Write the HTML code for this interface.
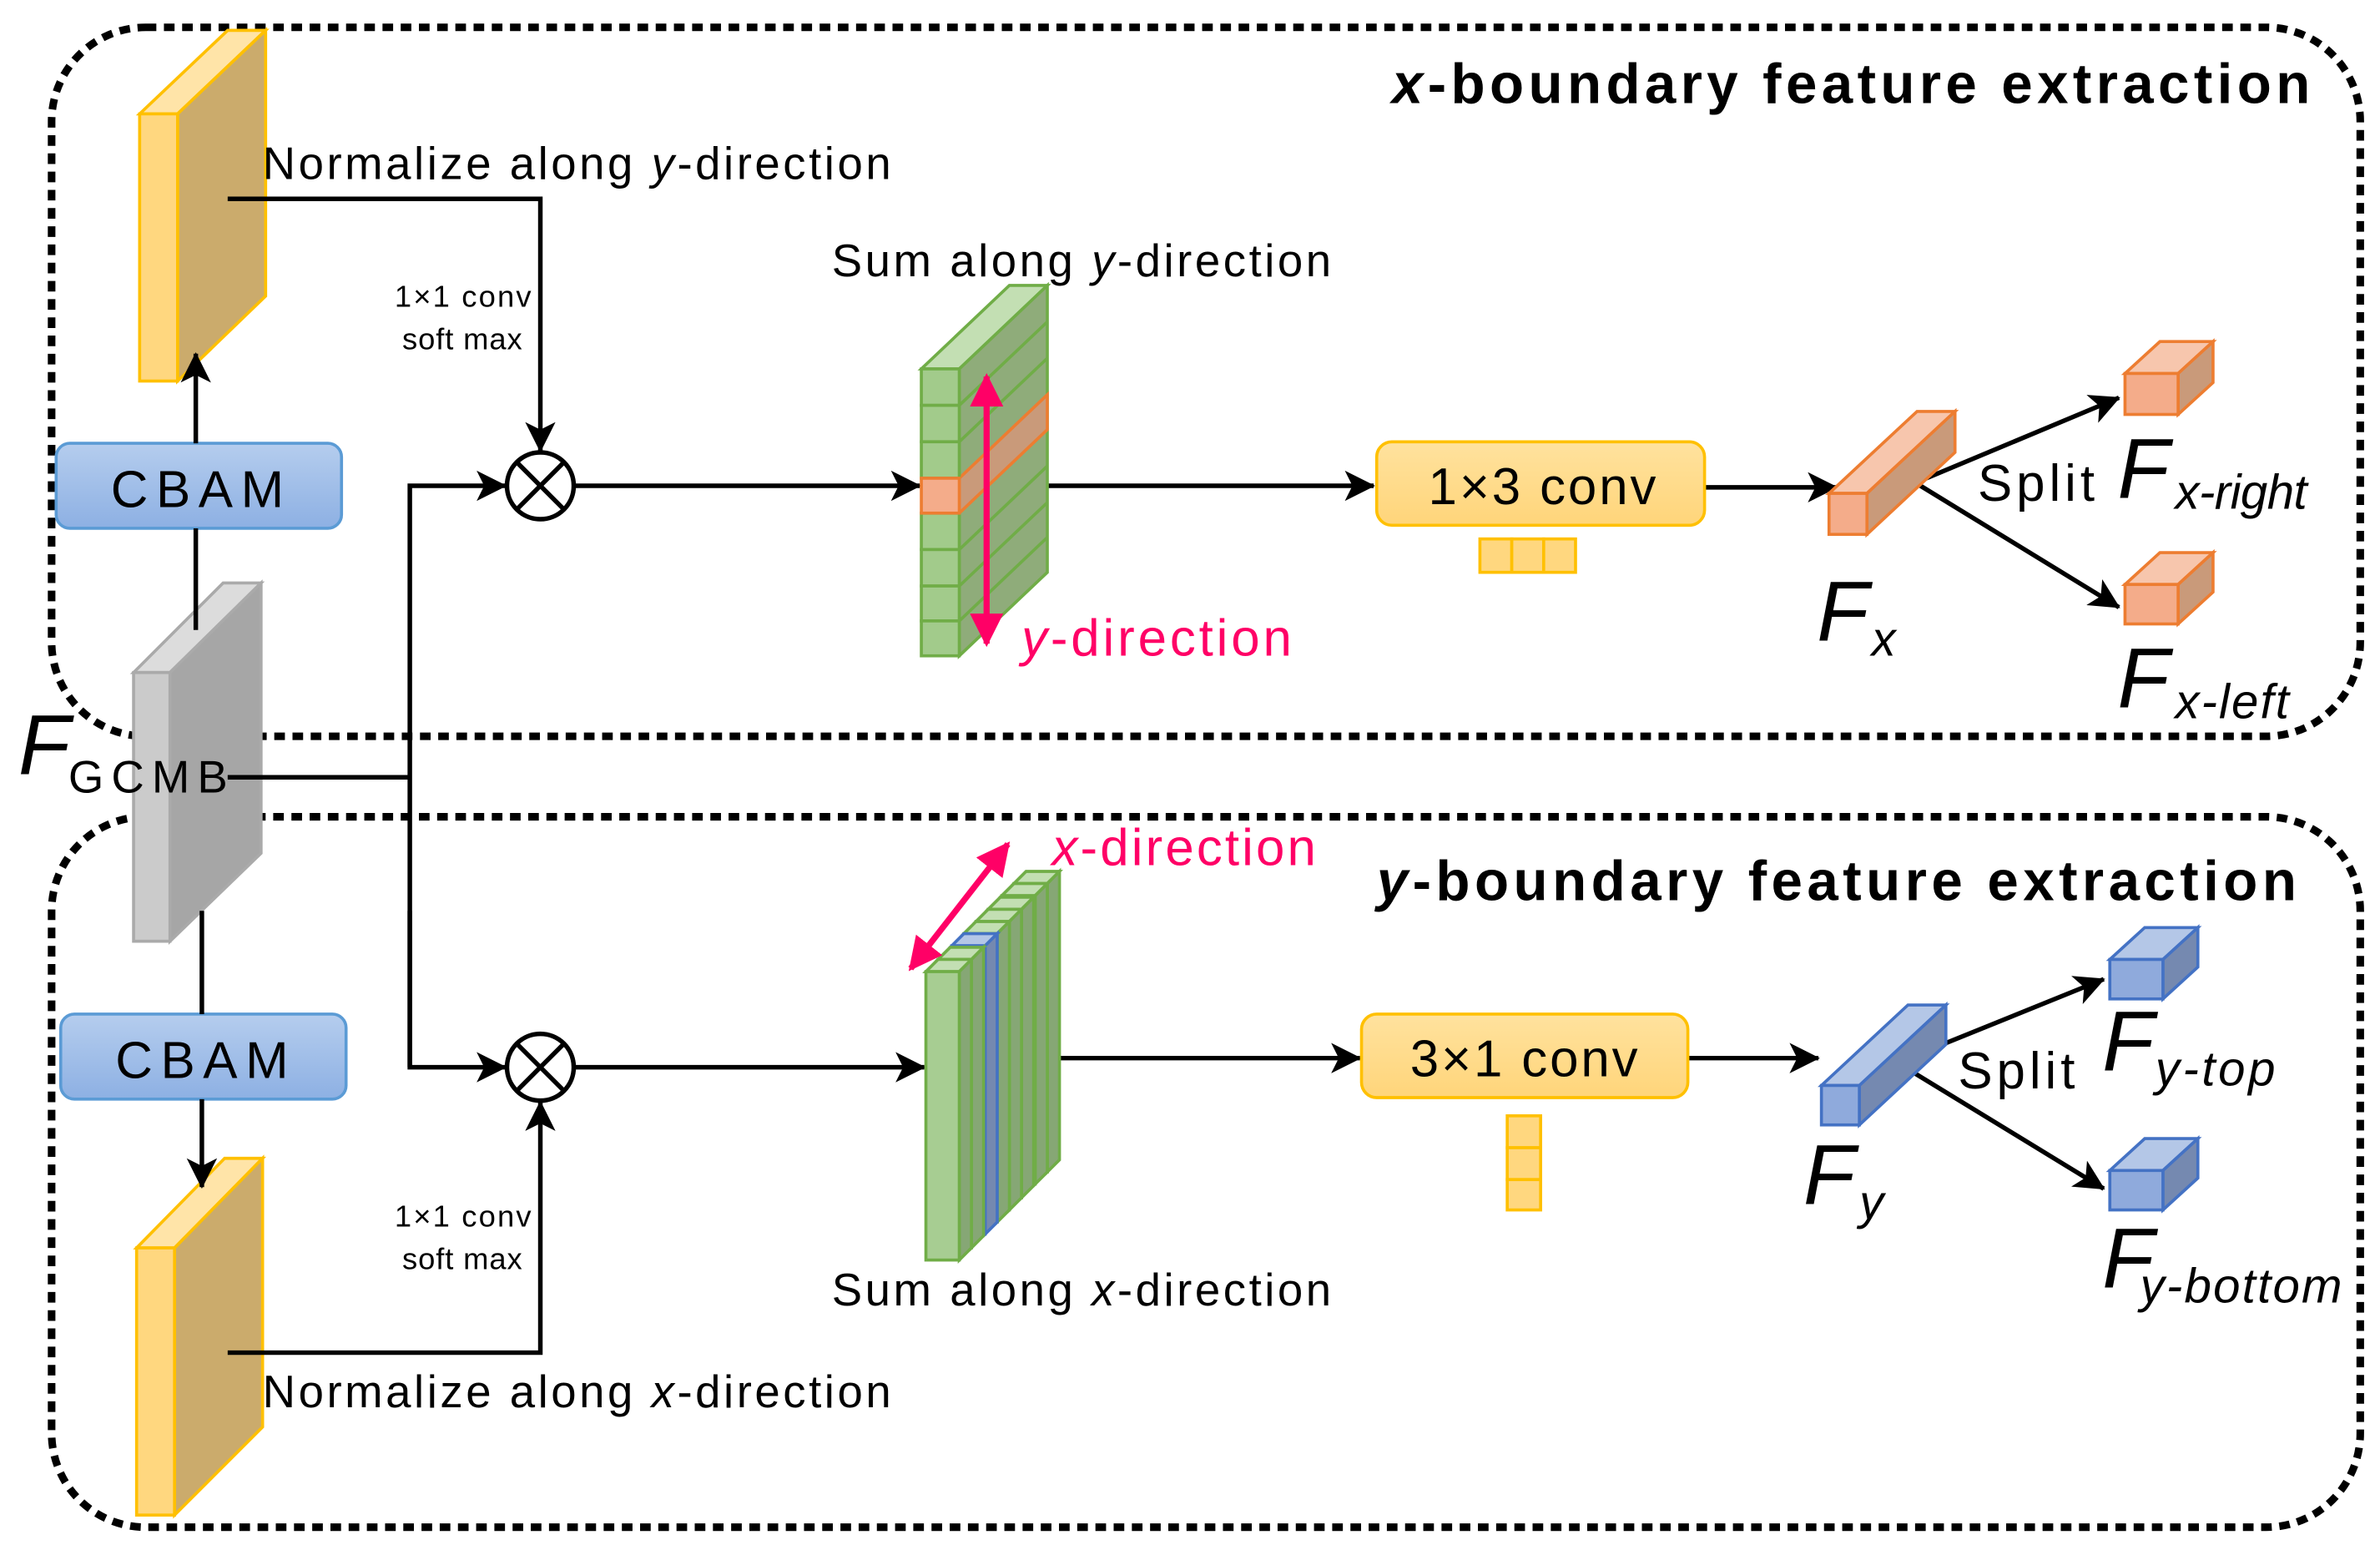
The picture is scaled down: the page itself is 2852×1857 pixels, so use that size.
<!DOCTYPE html>
<html><head><meta charset="utf-8"><style>
html,body{margin:0;padding:0;background:#fff;}
svg{display:block;}
text{font-family:"Liberation Sans",sans-serif;}
</style></head><body>
<svg width="2852" height="1857" viewBox="0 0 1568 1021" preserveAspectRatio="none" xmlns="http://www.w3.org/2000/svg">
<defs>
<marker id="ah" viewBox="0 0 20 20" refX="19" refY="10" markerWidth="20" markerHeight="20" markerUnits="userSpaceOnUse" orient="auto">
<path d="M0,0 L20,10 L0,20 L5,10 Z" fill="#000"/></marker>
<marker id="ph" viewBox="0 0 20 20" refX="18" refY="10" markerWidth="22" markerHeight="22" markerUnits="userSpaceOnUse" orient="auto-start-reverse">
<path d="M0,0 L20,10 L0,20 Z" fill="#ff0066"/></marker>
<linearGradient id="cb" x1="0" y1="0" x2="0" y2="1"><stop offset="0" stop-color="#b5cdee"/><stop offset="1" stop-color="#8db0e3"/></linearGradient>
<linearGradient id="cv" x1="0" y1="0" x2="0" y2="1"><stop offset="0" stop-color="#ffe29e"/><stop offset="1" stop-color="#ffd57a"/></linearGradient>
</defs>

<rect x="34" y="18" width="1521" height="467" rx="62" fill="none" stroke="#000" stroke-width="5" stroke-dasharray="7 5"/>
<rect x="34" y="538" width="1521" height="468" rx="62" fill="none" stroke="#000" stroke-width="5" stroke-dasharray="7 5"/>

<text x="917" y="68" font-size="37" font-weight="bold" textLength="605" lengthAdjust="spacing"><tspan font-style="italic">x</tspan>-boundary feature extraction</text>
<text x="907" y="593" font-size="37" font-weight="bold" textLength="606" lengthAdjust="spacing"><tspan font-style="italic">y</tspan>-boundary feature extraction</text>

<polygon points="92,75 150,20 175,20 117,75" fill="#ffe4a8" stroke="#ffc000" stroke-width="2"/>
<polygon points="117,75 175,20 175,195 117,251" fill="#cbab6c" stroke="#ffc000" stroke-width="2"/>
<rect x="92" y="75" width="25" height="176" fill="#ffd77f" stroke="#ffc000" stroke-width="2"/>
<polygon points="88,443 147,384 172,384 112,443" fill="#dcdcdc" stroke="#aaa" stroke-width="2"/>
<polygon points="112,443 172,384 172,562 112,620" fill="#a6a6a6" stroke="#aaa" stroke-width="2"/>
<rect x="88" y="443" width="24" height="177" fill="#cbcbcb" stroke="#aaa" stroke-width="2"/>
<polygon points="90,822 148,763 173,763 115,822" fill="#ffe4a8" stroke="#ffc000" stroke-width="2"/>
<polygon points="115,822 173,763 173,940 115,998" fill="#cbab6c" stroke="#ffc000" stroke-width="2"/>
<rect x="90" y="822" width="25" height="176" fill="#ffd77f" stroke="#ffc000" stroke-width="2"/>

<rect x="37" y="292" width="188" height="56" rx="9" fill="url(#cb)" stroke="#5b9bd5" stroke-width="2"/>
<text x="73" y="334" font-size="34" textLength="114" lengthAdjust="spacing">CBAM</text>
<rect x="40" y="668" width="188" height="56" rx="9" fill="url(#cb)" stroke="#5b9bd5" stroke-width="2"/>
<text x="76" y="710" font-size="34" textLength="114" lengthAdjust="spacing">CBAM</text>

<g stroke="#000" stroke-width="3" fill="none">
<line x1="129" y1="415" x2="129" y2="348"/>
<line x1="129" y1="292" x2="129" y2="233" marker-end="url(#ah)"/>
<line x1="133" y1="600" x2="133" y2="668"/>
<line x1="133" y1="724" x2="133" y2="782" marker-end="url(#ah)"/>
<polyline points="150,512 270,512"/>
<polyline points="270,703 270,320 333,320" marker-end="url(#ah)"/>
<polyline points="270,600 270,703 333,703" marker-end="url(#ah)"/>
<polyline points="150,131 356,131 356,297" marker-end="url(#ah)"/>
<polyline points="150,891 356,891 356,726" marker-end="url(#ah)"/>
<circle cx="356" cy="320" r="22" fill="#fff"/>
<line x1="340" y1="304" x2="372" y2="336"/><line x1="372" y1="304" x2="340" y2="336"/>
<circle cx="356" cy="703" r="22" fill="#fff"/>
<line x1="340" y1="687" x2="372" y2="719"/><line x1="372" y1="687" x2="340" y2="719"/>
<line x1="378" y1="320" x2="606" y2="320" marker-end="url(#ah)"/>
<line x1="378" y1="703" x2="609" y2="703" marker-end="url(#ah)"/>
<line x1="680" y1="320" x2="905" y2="320" marker-end="url(#ah)"/>
<line x1="668" y1="697" x2="896" y2="697" marker-end="url(#ah)"/>
<line x1="1123" y1="321" x2="1210" y2="321" marker-end="url(#ah)"/>
<line x1="1112" y1="697" x2="1198" y2="697" marker-end="url(#ah)"/>
<line x1="1262" y1="318" x2="1396" y2="262" marker-end="url(#ah)"/>
<line x1="1262" y1="318" x2="1396" y2="400" marker-end="url(#ah)"/>
<line x1="1250" y1="700" x2="1386" y2="645" marker-end="url(#ah)"/>
<line x1="1250" y1="700" x2="1386" y2="783" marker-end="url(#ah)"/>
</g>

<text x="173" y="118" font-size="30" textLength="414" lengthAdjust="spacing">Normalize along <tspan font-style="italic">y</tspan>-direction</text>
<text x="173" y="927" font-size="30" textLength="414" lengthAdjust="spacing">Normalize along <tspan font-style="italic">x</tspan>-direction</text>
<text x="260" y="202" font-size="20" textLength="90" lengthAdjust="spacing">1×1 conv</text>
<text x="265" y="230" font-size="20" textLength="79" lengthAdjust="spacing">soft max</text>
<text x="260" y="808" font-size="20" textLength="90" lengthAdjust="spacing">1×1 conv</text>
<text x="265" y="836" font-size="20" textLength="79" lengthAdjust="spacing">soft max</text>

<text x="12" y="510" font-size="56" font-style="italic">F</text>
<text x="45" y="522" font-size="30" textLength="105" lengthAdjust="spacing">GCMB</text>

<polygon points="607,243 665,188 690,188 632,243" fill="#c3dfb3" stroke="#70ad47" stroke-width="2"/>
<polygon points="632,243 690,188 690,377 632,432" fill="#8fac7a" stroke="#70ad47" stroke-width="2"/>
<polygon points="632,315 690,260 690,283 632,338" fill="#c99a7a" stroke="#ed7d31" stroke-width="2"/>
<g stroke="#70ad47" stroke-width="2">
<line x1="632" y1="267" x2="690" y2="212"/><line x1="632" y1="291" x2="690" y2="236"/>
<line x1="632" y1="362" x2="690" y2="307"/><line x1="632" y1="386" x2="690" y2="331"/><line x1="632" y1="409" x2="690" y2="354"/>
</g>
<g stroke="#70ad47" stroke-width="2" fill="#a2cb8b">
<rect x="607" y="243" width="25" height="24"/><rect x="607" y="267" width="25" height="24"/><rect x="607" y="291" width="25" height="24"/>
<rect x="607" y="338" width="25" height="24"/><rect x="607" y="362" width="25" height="24"/><rect x="607" y="386" width="25" height="23"/><rect x="607" y="409" width="25" height="23"/>
</g>
<rect x="607" y="315" width="25" height="23" fill="#f4ac8a" stroke="#ed7d31" stroke-width="2"/>
<line x1="650" y1="248" x2="650" y2="424" stroke="#ff0066" stroke-width="4" marker-start="url(#ph)" marker-end="url(#ph)"/>
<text x="673" y="432" font-size="34" fill="#ff0066" textLength="178" lengthAdjust="spacing"><tspan font-style="italic">y</tspan>-direction</text>
<text x="548" y="182" font-size="30" textLength="329" lengthAdjust="spacing">Sum along <tspan font-style="italic">y</tspan>-direction</text>

<g stroke="#70ad47" stroke-width="2">
<g transform="translate(58,-58)"><polygon points="610,640 618,632 640,632 632,640" fill="#c3dfb3"/><polygon points="632,640 640,632 640,822 632,830" fill="#86a775"/><rect x="610" y="640" width="22" height="190" fill="#8fb07c"/></g>
<g transform="translate(50,-50)"><polygon points="610,640 618,632 640,632 632,640" fill="#c3dfb3"/><polygon points="632,640 640,632 640,822 632,830" fill="#86a775"/><rect x="610" y="640" width="22" height="190" fill="#8fb07c"/></g>
<g transform="translate(41,-41)"><polygon points="610,640 618,632 640,632 632,640" fill="#c3dfb3"/><polygon points="632,640 640,632 640,822 632,830" fill="#86a775"/><rect x="610" y="640" width="22" height="190" fill="#8fb07c"/></g>
<g transform="translate(33,-33)"><polygon points="610,640 618,632 640,632 632,640" fill="#c3dfb3"/><polygon points="632,640 640,632 640,822 632,830" fill="#86a775"/><rect x="610" y="640" width="22" height="190" fill="#8fb07c"/></g>
<g transform="translate(25,-25)"><polygon points="610,640 618,632 640,632 632,640" fill="#c3dfb3"/><polygon points="632,640 640,632 640,822 632,830" fill="#86a775"/><rect x="610" y="640" width="22" height="190" fill="#8fb07c"/></g>
<g transform="translate(17,-17)" stroke="#4472c4"><polygon points="610,640 618,632 640,632 632,640" fill="#b4c7e7"/><polygon points="632,640 640,632 640,822 632,830" fill="#7589b0"/><rect x="610" y="640" width="22" height="190" fill="#7589b0"/></g>
<g transform="translate(8,-8)"><polygon points="610,640 618,632 640,632 632,640" fill="#c3dfb3"/><polygon points="632,640 640,632 640,822 632,830" fill="#86a775"/><rect x="610" y="640" width="22" height="190" fill="#8fb07c"/></g>
<polygon points="610,640 618,632 640,632 632,640" fill="#c3dfb3"/>
<polygon points="632,640 640,632 640,822 632,830" fill="#86a775"/>
<rect x="610" y="640" width="22" height="190" fill="#a7cd92"/>
</g>
<line x1="600" y1="638" x2="664" y2="556" stroke="#ff0066" stroke-width="4" marker-start="url(#ph)" marker-end="url(#ph)"/>
<text x="693" y="570" font-size="34" fill="#ff0066" textLength="174" lengthAdjust="spacing"><tspan font-style="italic">x</tspan>-direction</text>
<text x="548" y="860" font-size="30" textLength="329" lengthAdjust="spacing">Sum along <tspan font-style="italic">x</tspan>-direction</text>

<rect x="907" y="291" width="216" height="55" rx="10" fill="url(#cv)" stroke="#ffc000" stroke-width="2"/>
<text x="941" y="332" font-size="34" textLength="150" lengthAdjust="spacing">1×3 conv</text>
<g fill="#ffd77f" stroke="#ffc000" stroke-width="2">
<rect x="975" y="355" width="21" height="22"/><rect x="996" y="355" width="21" height="22"/><rect x="1017" y="355" width="21" height="22"/>
</g>
<rect x="897" y="668" width="215" height="55" rx="10" fill="url(#cv)" stroke="#ffc000" stroke-width="2"/>
<text x="929" y="709" font-size="34" textLength="150" lengthAdjust="spacing">3×1 conv</text>
<g fill="#ffd77f" stroke="#ffc000" stroke-width="2">
<rect x="993" y="735" width="22" height="21"/><rect x="993" y="756" width="22" height="21"/><rect x="993" y="777" width="22" height="20"/>
</g>

<g stroke="#ed7d31" stroke-width="2">
<polygon points="1205,325 1263,271 1288,271 1230,325" fill="#f7c6ad"/>
<polygon points="1230,325 1288,271 1288,298 1230,352" fill="#c99a7a"/>
<rect x="1205" y="325" width="25" height="27" fill="#f4ac8a"/>
<polygon points="1400,246 1423,225 1458,225 1435,246" fill="#f7c6ad"/>
<polygon points="1435,246 1458,225 1458,252 1435,273" fill="#c99a7a"/>
<rect x="1400" y="246" width="35" height="27" fill="#f4ac8a"/>
<polygon points="1400,385 1423,364 1458,364 1435,385" fill="#f7c6ad"/>
<polygon points="1435,385 1458,364 1458,390 1435,411" fill="#c99a7a"/>
<rect x="1400" y="385" width="35" height="26" fill="#f4ac8a"/>
</g>
<g stroke="#4472c4" stroke-width="2">
<polygon points="1200,715 1257,662 1282,662 1225,715" fill="#b4c7e7"/>
<polygon points="1225,715 1282,662 1282,688 1225,741" fill="#7589b0"/>
<rect x="1200" y="715" width="25" height="26" fill="#8faadc"/>
<polygon points="1390,632 1413,611 1448,611 1425,632" fill="#b4c7e7"/>
<polygon points="1425,632 1448,611 1448,637 1425,658" fill="#7589b0"/>
<rect x="1390" y="632" width="35" height="26" fill="#8faadc"/>
<polygon points="1390,771 1413,750 1448,750 1425,771" fill="#b4c7e7"/>
<polygon points="1425,771 1448,750 1448,776 1425,797" fill="#7589b0"/>
<rect x="1390" y="771" width="35" height="26" fill="#8faadc"/>
</g>

<g font-style="italic">
<text x="1197" y="422" font-size="56">F</text><text x="1233" y="432" font-size="32">x</text>
<text x="1395" y="328" font-size="56">F</text><text x="1433" y="335" font-size="32" textLength="87" lengthAdjust="spacing">x-right</text>
<text x="1395" y="466" font-size="56">F</text><text x="1433" y="473" font-size="32" textLength="75" lengthAdjust="spacing">x-left</text>
<text x="1188" y="793" font-size="56">F</text><text x="1225" y="803" font-size="32">y</text>
<text x="1385" y="705" font-size="56">F</text><text x="1420" y="715" font-size="32" textLength="79" lengthAdjust="spacing">y-top</text>
<text x="1385" y="848" font-size="56">F</text><text x="1410" y="858" font-size="32" textLength="133" lengthAdjust="spacing">y-bottom</text>
</g>
<text x="1303" y="330" font-size="34" textLength="77" lengthAdjust="spacing">Split</text>
<text x="1290" y="717" font-size="34" textLength="77" lengthAdjust="spacing">Split</text>
</svg>
</body></html>
